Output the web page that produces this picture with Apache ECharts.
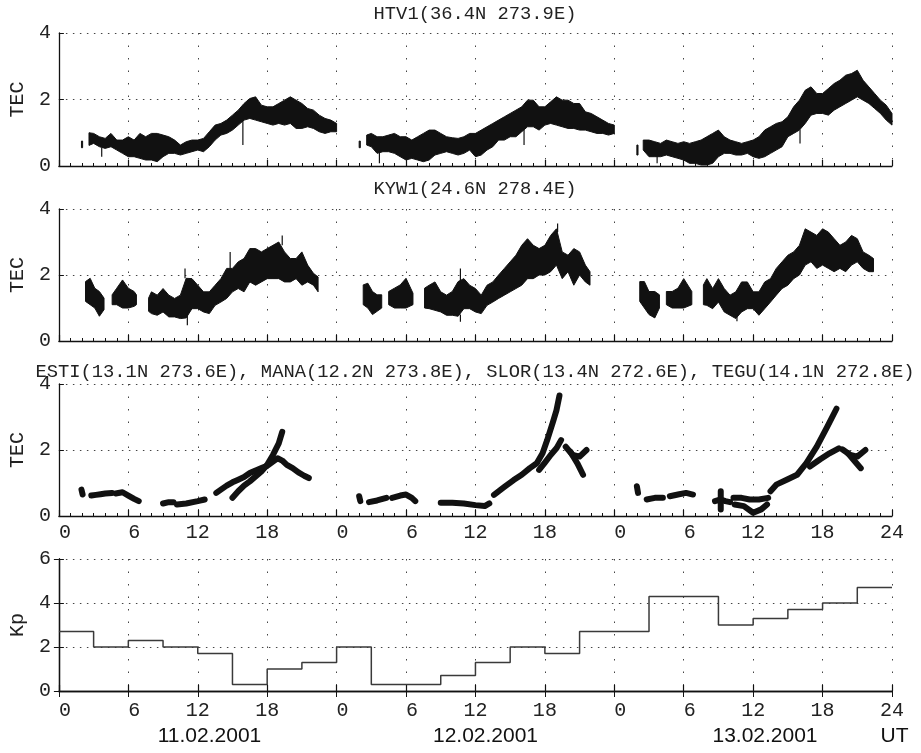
<!DOCTYPE html>
<html>
<head>
<meta charset="utf-8">
<title>TEC and Kp, 11-13.02.2001</title>
<script src="https://cdn.jsdelivr.net/npm/echarts@6.0.0/dist/echarts.min.js"></script>
<style>
    html, body { margin: 0; padding: 0; background: #fff; }
    #chart { width: 921px; height: 753px; }
</style>
</head>
<body>
<div id="chart"></div>
<script>
// ---- data (hours counted from 11.02.2001 00 UT) ----
var titles = ['HTV1(36.4N 273.9E)', 'KYW1(24.6N 278.4E)',
    'ESTI(13.1N 273.6E), MANA(12.2N 273.8E), SLOR(13.4N 272.6E), TEGU(14.1N 272.8E)'];
var dayLabels = ['11.02.2001', '12.02.2001', '13.02.2001'];

// HTV1: envelope of the TEC trace, one sub-array per continuous piece
var htvT = [
    [1.95, 2.05],
    [2.6, 3, 3.5, 4, 4.5, 5, 5.5, 6, 6.5, 7, 7.5, 8, 8.5, 9, 9.5, 10, 10.5, 11, 11.5, 12, 12.5, 13, 13.5, 14, 14.5, 15, 15.5, 16, 16.5, 17, 17.5, 18, 18.5, 19, 19.5, 20, 20.5, 21, 21.5, 22, 22.5, 23, 23.5, 24],
    [25.95, 26.05],
    [26.6, 27, 27.5, 28, 28.5, 29, 29.5, 30, 30.5, 31, 31.5, 32, 32.5, 33, 33.5, 34, 34.5, 35, 35.5, 36, 36.5, 37, 37.5, 38, 38.5, 39, 39.5, 40, 40.5, 41, 41.5, 42, 42.5, 43, 43.5, 44, 44.5, 45, 45.5, 46, 46.5, 47, 47.5, 48],
    [49.95, 50.05],
    [50.5, 51, 51.5, 52, 52.5, 53, 53.5, 54, 54.5, 55, 55.5, 56, 56.5, 57, 57.5, 58, 58.5, 59, 59.5, 60, 60.5, 61, 61.5, 62, 62.5, 63, 63.5, 64, 64.5, 65, 65.5, 66, 66.5, 67, 67.5, 68, 68.5, 69, 69.5, 70, 70.5, 71, 71.5, 72]
];
var htvLo = [
    [0.55, 0.55],
    [0.62, 0.68, 0.58, 0.53, 0.58, 0.48, 0.38, 0.28, 0.28, 0.23, 0.18, 0.18, 0.13, 0.28, 0.38, 0.38, 0.33, 0.38, 0.43, 0.48, 0.43, 0.58, 0.78, 0.93, 0.98, 1.08, 1.23, 1.38, 1.43, 1.38, 1.33, 1.28, 1.23, 1.28, 1.23, 1.28, 1.13, 1.13, 1.18, 1.13, 1.03, 0.98, 1.03, 1.03],
    [0.55, 0.55],
    [0.63, 0.58, 0.38, 0.43, 0.43, 0.38, 0.28, 0.18, 0.23, 0.18, 0.13, 0.18, 0.33, 0.38, 0.43, 0.38, 0.33, 0.38, 0.48, 0.28, 0.33, 0.48, 0.58, 0.78, 0.78, 0.88, 0.88, 1.03, 1.18, 1.18, 1.08, 1.23, 1.28, 1.23, 1.18, 1.13, 1.13, 1.08, 1.08, 1.03, 0.98, 0.98, 0.93, 0.98],
    [0.33, 0.33],
    [0.48, 0.28, 0.28, 0.28, 0.33, 0.28, 0.23, 0.18, 0.08, 0.08, 0.03, 0.03, 0.08, 0.28, 0.38, 0.38, 0.33, 0.33, 0.38, 0.28, 0.23, 0.28, 0.38, 0.48, 0.58, 0.88, 0.98, 1.08, 1.28, 1.53, 1.58, 1.58, 1.53, 1.68, 1.78, 1.88, 1.98, 2.08, 1.98, 1.88, 1.73, 1.58, 1.38, 1.23]
];
var htvHi = [
    [0.75, 0.75],
    [1.0, 0.98, 0.88, 0.83, 0.98, 0.78, 0.78, 0.88, 0.78, 0.98, 0.88, 0.98, 0.98, 0.93, 0.88, 0.78, 0.63, 0.73, 0.78, 0.78, 0.83, 1.03, 1.23, 1.28, 1.38, 1.53, 1.68, 1.88, 2.03, 2.08, 1.83, 1.78, 1.78, 1.88, 1.98, 2.08, 1.98, 1.88, 1.73, 1.68, 1.53, 1.43, 1.38, 1.28],
    [0.75, 0.75],
    [0.93, 0.98, 0.88, 0.88, 0.93, 0.98, 0.88, 0.88, 0.78, 0.88, 0.98, 1.08, 1.08, 0.98, 0.88, 0.85, 0.83, 0.88, 0.98, 0.98, 1.08, 1.18, 1.28, 1.38, 1.48, 1.58, 1.68, 1.78, 1.98, 1.98, 1.78, 1.78, 1.93, 2.08, 1.98, 1.98, 1.88, 1.88, 1.63, 1.58, 1.48, 1.38, 1.28, 1.23],
    [0.63, 0.63],
    [0.78, 0.78, 0.73, 0.68, 0.78, 0.73, 0.68, 0.73, 0.68, 0.73, 0.78, 0.88, 0.98, 1.08, 0.88, 0.78, 0.73, 0.68, 0.73, 0.78, 0.88, 1.08, 1.18, 1.28, 1.33, 1.48, 1.78, 1.98, 2.28, 2.38, 2.18, 2.18, 2.33, 2.48, 2.58, 2.73, 2.78, 2.88, 2.58, 2.38, 2.18, 1.98, 1.83, 1.58]
];
// single outliers: [hour, from, to]
var htvSpikes = [[3.7, 0.55, 0.28], [15.9, 1.4, 0.63], [27.7, 0.45, 0.08], [40.2, 1.1, 0.63], [51.7, 0.3, 0.08], [64.05, 1.1, 0.68]];

// KYW1
var kywT = [
    [2.3, 2.7, 3.1, 3.5, 3.9],
    [4.6, 5, 5.5, 6, 6.5, 6.7],
    [7.75, 8, 8.5, 9, 9.5, 10, 10.5, 11, 11.5, 12, 12.5, 13, 13.5, 14, 14.5, 15, 15.5, 16, 16.5, 17, 17.5, 18, 18.5, 19, 19.5, 20, 20.5, 21, 21.5, 22, 22.4],
    [26.3, 26.7, 27.1, 27.5, 27.9],
    [28.5, 29, 29.5, 30, 30.6],
    [31.6, 32, 32.5, 33, 33.5, 34, 34.5, 35, 35.5, 36, 36.5, 37, 37.5, 38, 38.5, 39, 39.5, 40, 40.5, 41, 41.5, 42, 42.5, 43, 43.5, 44, 44.5, 45, 45.5, 45.9],
    [50.2, 50.6, 51, 51.5, 51.9],
    [52.5, 53, 53.5, 54, 54.7],
    [55.7, 56, 56.5, 57, 57.5, 58, 58.5, 59, 59.5, 60, 60.5, 61, 61.5, 62, 62.5, 63, 63.5, 64, 64.5, 65, 65.5, 66, 66.5, 67, 67.5, 68, 68.5, 69, 69.5, 70, 70.4]
];
var kywLo = [
    [1.2, 1.1, 1.0, 0.75, 0.95],
    [1.1, 1.1, 1.0, 1.0, 1.05, 1.1],
    [0.9, 0.83, 0.78, 0.88, 0.73, 0.73, 0.68, 0.7, 0.98, 0.98, 0.88, 0.83, 1.08, 1.18, 1.29, 1.49, 1.59, 1.49, 1.79, 1.69, 1.79, 1.89, 1.89, 1.89, 1.79, 1.79, 1.89, 1.69, 1.79, 1.69, 1.49],
    [1.1, 1.0, 0.8, 0.9, 1.0],
    [1.1, 1.0, 1.0, 1.0, 1.1],
    [1.0, 0.98, 0.93, 0.88, 0.78, 0.78, 0.75, 0.98, 0.98, 0.88, 0.83, 1.08, 1.18, 1.29, 1.39, 1.49, 1.59, 1.69, 1.89, 1.89, 2.0, 2.0, 2.1, 2.3, 1.89, 2.1, 1.69, 2.0, 1.79, 1.69],
    [1.2, 1.0, 0.8, 0.7, 1.0],
    [1.1, 1.0, 1.0, 1.0, 1.1],
    [1.1, 1.08, 0.98, 1.18, 0.88, 0.78, 0.68, 0.88, 0.98, 0.98, 0.78, 0.98, 1.18, 1.39, 1.59, 1.69, 1.89, 2.0, 2.3, 2.4, 2.2, 2.3, 2.2, 2.1, 2.2, 2.1, 2.3, 2.4, 2.2, 2.1, 2.1]
];
var kywHi = [
    [1.8, 1.9, 1.6, 1.5, 1.3],
    [1.4, 1.6, 1.85, 1.6, 1.5, 1.4],
    [1.3, 1.49, 1.39, 1.59, 1.39, 1.29, 1.39, 1.9, 1.89, 1.69, 1.49, 1.49, 1.69, 1.89, 2.2, 2.2, 2.4, 2.5, 2.8, 2.8, 2.7, 2.8, 2.9, 3.0, 2.7, 2.5, 2.5, 2.7, 2.3, 2.05, 1.94],
    [1.7, 1.75, 1.5, 1.4, 1.4],
    [1.5, 1.6, 1.7, 1.9, 1.45],
    [1.6, 1.69, 1.79, 1.49, 1.39, 1.5, 1.8, 1.89, 1.69, 1.59, 1.39, 1.69, 1.79, 2.0, 2.2, 2.4, 2.6, 2.9, 3.1, 2.9, 2.8, 2.9, 3.2, 3.4, 2.7, 2.6, 2.8, 2.7, 2.3, 2.1],
    [1.8, 1.8, 1.5, 1.5, 1.4],
    [1.5, 1.5, 1.6, 1.89, 1.5],
    [1.7, 1.89, 1.59, 1.89, 1.59, 1.39, 1.49, 1.79, 1.79, 1.49, 1.49, 1.79, 1.89, 2.2, 2.4, 2.6, 2.7, 2.9, 3.4, 3.3, 3.2, 3.4, 3.3, 3.1, 2.9, 3.0, 3.2, 3.1, 2.7, 2.6, 2.5]
];
var kywSpikes = [[10.9, 1.9, 2.2], [11.1, 0.8, 0.48], [14.8, 2.2, 2.7], [19.3, 2.9, 3.2], [34.7, 1.8, 2.2], [34.7, 0.8, 0.58], [43.1, 3.3, 3.56], [58.6, 0.8, 0.6]];

// Central-American stations: narrow traces, null = data gap
var estT = [1.95, 2.05, null, 2.8, 3.2, 3.6, 4.0, 4.6, null, 4.9, 5.5, 6.0, 6.5, 6.9, null,
    9.0, 9.5, 9.9, null, 10.2, 11.0, 12.0, 12.6, null,
    13.6, 14.0, 14.5, 15.0, 15.5, 16.0, 16.5, 17.0, 17.5, 18.0, 18.5, 18.9, 19.3, 19.7, 20.2, 20.7, 21.2, 21.6, null,
    25.95, 26.05, null, 26.8, 27.5, 28.3, null, 28.8, 29.5, 30.0, 30.5, 30.8, null,
    33.0, 34.0, 35.0, 36.0, 36.8, 37.2, null,
    37.6, 38.5, 39.3, 40.0, 40.7, 41.3, 41.8, 42.2, 42.7, 43.0, 43.26, null,
    43.8, 44.4, 45.0, 45.6, null,
    49.95, 50.05, null, 50.8, 51.5, 52.2, null, 52.8, 53.5, 54.2, 54.8, null,
    56.7, 57.2, 57.6, 58.0, null, 58.3, 59.0, 59.7, 60.5, 61.3, null,
    61.5, 62.0, 62.9, 63.8, 64.6, 65.5, 66.4, 67.2, null,
    67.7, 68.4, 69.0, 69.7];
var estV = [0.8, 0.65, null, 0.62, 0.64, 0.66, 0.68, 0.7, null, 0.68, 0.72, 0.62, 0.52, 0.45, null,
    0.38, 0.42, 0.42, null, 0.35, 0.38, 0.45, 0.5, null,
    0.7, 0.8, 0.92, 1.02, 1.1, 1.18, 1.3, 1.38, 1.45, 1.52, 1.65, 1.75, 1.68, 1.55, 1.45, 1.32, 1.22, 1.15, null,
    0.6, 0.45, null, 0.42, 0.47, 0.55, null, 0.55, 0.62, 0.65, 0.55, 0.45, null,
    0.4, 0.4, 0.38, 0.33, 0.3, 0.38, null,
    0.64, 0.88, 1.09, 1.25, 1.45, 1.6, 1.9, 2.3, 2.85, 3.2, 3.65, null,
    2.1, 1.85, 1.8, 2.0, null,
    0.9, 0.7, null, 0.5, 0.55, 0.55, null, 0.6, 0.65, 0.7, 0.65, null,
    0.45, 0.5, 0.45, 0.42, null, 0.55, 0.55, 0.5, 0.5, 0.55, null,
    0.75, 0.95, 1.1, 1.25, 1.6, 2.1, 2.7, 3.25, null,
    2.02, 1.85, 1.8, 2.0];
var estBranchT = [15.0, 15.5, 16.0, 16.5, 17.0, 17.5, 18.0, 18.5, 19.0, 19.3, null,
    41.5, 42.0, 42.5, 43.0, 43.4, null, 44.2, 44.8, 45.3, null,
    57.2, 57.2, null, 58.4, 59.2, 60.0, 60.7, 61.2, null,
    64.9, 65.8, 66.6, 67.4, null, 68.2, 68.8, 69.3];
var estBranchV = [0.55, 0.75, 0.92, 1.05, 1.2, 1.35, 1.55, 1.85, 2.2, 2.55, null,
    1.4, 1.62, 1.85, 2.05, 2.3, null, 1.95, 1.6, 1.25, null,
    0.75, 0.2, null, 0.35, 0.3, 0.1, 0.2, 0.35, null,
    1.5, 1.72, 1.9, 2.05, null, 1.9, 1.65, 1.45];

// Kp, 3-hour values
var kpT = [0, 3, 6, 9, 12, 15, 18, 21, 24, 27, 30, 33, 36, 39, 42, 45, 48, 51, 54, 57, 60, 63, 66, 69, 72];
var kpV = [2.7, 2.0, 2.3, 2.0, 1.7, 0.3, 1.0, 1.3, 2.0, 0.3, 0.3, 0.7, 1.3, 2.0, 1.7, 2.7, 2.7, 4.3, 4.3, 3.0, 3.3, 3.7, 4.0, 4.7, 4.7];

// ---- layout ----
var MONO = '"Liberation Mono", "DejaVu Sans Mono", monospace';
var SANS = '"Liberation Sans", Arial, sans-serif';
var INK = '#111';
var LEFT = 58.5, RIGHT = 29;
var panels = [
    {top: 33, height: 133, ymax: 4, name: 'TEC', labels: false},
    {top: 209, height: 132, ymax: 4, name: 'TEC', labels: false},
    {top: 384, height: 132, ymax: 4, name: 'TEC', labels: true},
    {top: 559, height: 132, ymax: 6, name: 'Kp', labels: true}
];

function flatPairs(T, V) {
    return T.map(function (t, k) {
        return t === null ? ['-', '-'] : [t, V[k]];
    });
}

function spikePairs(list) {
    var out = [];
    list.forEach(function (s) {
        out.push([s[0], s[1]], [s[0], s[2]], ['-', '-']);
    });
    return out;
}

function hourLabel(v) {
    var h = v === 72 ? 24 : v % 24;
    return h < 10 ? ' ' + h : '' + h;
}

/**
 * TEC band: one filled polygon (lo forward, hi back) per continuous piece
 */
function bandSeries(idx, T, lo, hi, spikes) {
    return [{
        type: 'custom', xAxisIndex: idx, yAxisIndex: idx, silent: true,
        data: T.map(function (seg, s) { return [seg[0], lo[s][0]]; }),
        renderItem: function (params, api) {
            var s = params.dataIndex, pts = [], k;
            for (k = 0; k < T[s].length; k++) pts.push(api.coord([T[s][k], lo[s][k]]));
            for (k = T[s].length - 1; k >= 0; k--) pts.push(api.coord([T[s][k], hi[s][k]]));
            return {type: 'polygon', shape: {points: pts},
                style: {fill: INK, stroke: INK, lineWidth: 1, lineJoin: 'round'}};
        }
    }, {
        type: 'line', xAxisIndex: idx, yAxisIndex: idx, symbol: 'none', silent: true,
        data: spikePairs(spikes), lineStyle: {color: INK, width: 1.2}
    }];
}

function traceSeries(idx, data) {
    return {type: 'line', xAxisIndex: idx, yAxisIndex: idx, symbol: 'none', silent: true,
        connectNulls: false, data: data,
        lineStyle: {color: INK, width: 6, cap: 'round', join: 'round'}};
}

var grid = [], xAxis = [], yAxis = [];
panels.forEach(function (p, i) {
    grid.push({left: LEFT, right: RIGHT, top: p.top, height: p.height, show: false});
    xAxis.push({
        type: 'value', gridIndex: i, min: 0, max: 72, interval: 6,
        axisLine: {lineStyle: {color: INK, width: 1.3}},
        axisTick: {inside: true, length: 6, lineStyle: {color: INK, width: 1.2}},
        minorTick: {show: i < 3, splitNumber: 6, length: 3, lineStyle: {color: INK}},
        splitLine: {show: true, lineStyle: {color: '#444', width: 1, type: [1.5, 11]}},
        axisLabel: {show: p.labels, formatter: hourLabel, fontFamily: MONO, fontSize: 20,
            color: '#222', margin: i === 3 ? 10 : 7}
    });
    yAxis.push({
        type: 'value', gridIndex: i, min: 0, max: p.ymax, interval: 2,
        name: p.name, nameLocation: 'middle', nameGap: 30,
        nameTextStyle: {fontFamily: MONO, fontSize: 20, color: '#222'},
        axisLine: {show: true, lineStyle: {color: INK, width: 1.3}},
        axisTick: {show: true, inside: true, length: 5, lineStyle: {color: INK}},
        splitLine: {show: true, lineStyle: {color: '#444', width: 1, type: [1.5, 5.5]}},
        axisLabel: {fontFamily: MONO, fontSize: 20, color: '#222', margin: 8}
    });
});
// Kp panel is boxed
xAxis.push({type: 'value', gridIndex: 3, position: 'top', min: 0, max: 72, interval: 6,
    axisLine: {lineStyle: {color: INK, width: 1.3}},
    axisTick: {inside: true, length: 6, lineStyle: {color: INK}},
    axisLabel: {show: false}, splitLine: {show: false}});
yAxis.push({type: 'value', gridIndex: 3, position: 'right', min: 0, max: 6, interval: 2,
    axisLine: {show: true, lineStyle: {color: INK, width: 1.3}},
    axisTick: {show: true, inside: true, length: 5, lineStyle: {color: INK}},
    axisLabel: {show: false}, splitLine: {show: false}});

var series = []
    .concat(bandSeries(0, htvT, htvLo, htvHi, htvSpikes))
    .concat(bandSeries(1, kywT, kywLo, kywHi, kywSpikes))
    .concat([
        traceSeries(2, flatPairs(estT, estV)),
        traceSeries(2, flatPairs(estBranchT, estBranchV)),
        {type: 'line', xAxisIndex: 3, yAxisIndex: 3, step: 'end', symbol: 'none', silent: true,
            data: flatPairs(kpT, kpV), lineStyle: {color: '#3a3a3a', width: 1.5}}
    ]);

// titles and date captions
var titleY = [14, 189, 372];
var graphic = titles.map(function (t, i) {
    return {type: 'text', x: 475, y: titleY[i], silent: true,
        style: {text: t, fontFamily: MONO, fontSize: 18.8, fill: '#222', align: 'center', verticalAlign: 'middle'}};
});
var dayX = [209.5, 485.5, 765];
dayLabels.forEach(function (d, i) {
    graphic.push({type: 'text', x: dayX[i], y: 736, silent: true,
        style: {text: d, fontFamily: SANS, fontSize: 21, fill: INK, align: 'center', verticalAlign: 'middle'}});
});
graphic.push({type: 'text', x: 894.5, y: 736, silent: true,
    style: {text: 'UT', fontFamily: SANS, fontSize: 21, fill: INK, align: 'center', verticalAlign: 'middle'}});

var myChart = echarts.init(document.getElementById('chart'), null, {renderer: 'canvas'});
myChart.setOption({
    animation: false,
    backgroundColor: '#fff',
    grid: grid,
    xAxis: xAxis,
    yAxis: yAxis,
    series: series,
    graphic: graphic
});
</script>
</body>
</html>
